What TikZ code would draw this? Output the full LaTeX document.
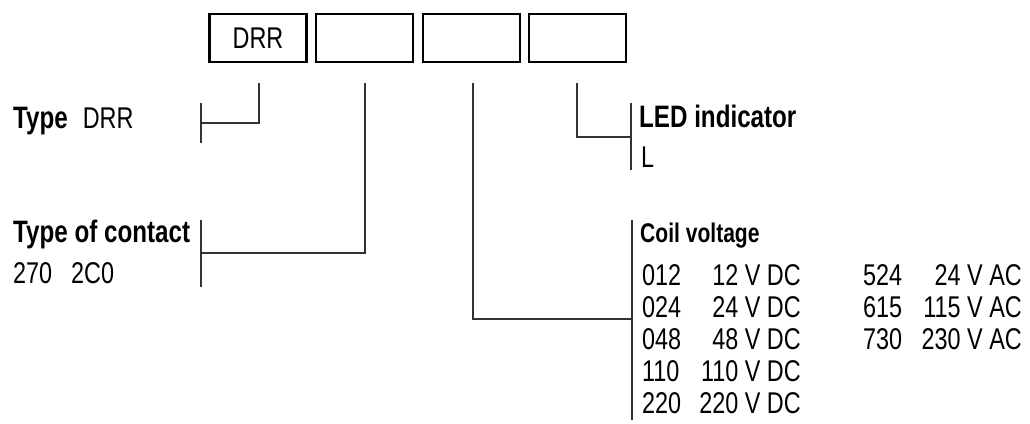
\documentclass[tikz,border=0pt]{standalone}
\usepackage{fontspec}
\setmainfont[FakeStretch=0.78]{Liberation Sans}
\definecolor{linegray}{HTML}{333333}
\tikzset{
  codebox/.style={draw=black, line width=2.6pt, minimum width=97pt, minimum height=48pt, inner sep=0pt},
  conn/.style={draw=linegray, line width=1.8pt},
  bar/.style={draw=linegray, line width=1.8pt},
  reg/.style={font=\fontsize{30pt}{32pt}\selectfont, inner sep=0pt, text=black},
  hdr/.style={font=\fontsize{31pt}{34pt}\selectfont\bfseries, inner sep=0pt, text=black},
  hdrs/.style={font=\fontsize{27pt}{30pt}\selectfont\bfseries, inner sep=0pt, text=black},
}
\begin{document}
\begin{tikzpicture}[x=1pt,y=-1pt]
\useasboundingbox (0,0) rectangle (1030,423);
% boxes
\node[codebox] (b1) at (258,38) {};
\node[codebox] (b2) at (364.5,38) {};
\node[codebox] (b3) at (471.5,38) {};
\node[codebox] (b4) at (577.5,38) {};
\node[reg] (drr) at (258,38) {DRR};
% coordinates
\coordinate (s1) at (259,83);
\coordinate (k1) at (259,123);
\coordinate (e1) at (201,123);
\coordinate (t1a) at (201,103);
\coordinate (t1b) at (201,143);
\coordinate (s2) at (365,83);
\coordinate (k2) at (365,253);
\coordinate (e2) at (201,253);
\coordinate (t2a) at (201,220);
\coordinate (t2b) at (201,287);
\coordinate (s3) at (473,83);
\coordinate (k3) at (473,319);
\coordinate (e3) at (632,319);
\coordinate (t3a) at (632,220);
\coordinate (t3b) at (632,420);
\coordinate (s4) at (577,83);
\coordinate (k4) at (577,137);
\coordinate (e4) at (631,137);
\coordinate (t4a) at (631,103);
\coordinate (t4b) at (631,170);
% connectors
\draw[conn] (s1) -- (k1) -- (e1);
\draw[bar] (t1a) -- (t1b);
\draw[conn] (s2) -- (k2) -- (e2);
\draw[bar] (t2a) -- (t2b);
\draw[conn] (s3) -- (k3) -- (e3);
\draw[bar] (t3a) -- (t3b);
\draw[conn] (s4) -- (k4) -- (e4);
\draw[bar] (t4a) -- (t4b);
% labels
\node[hdr, anchor=base west] (type) at (13,128) {Type\hspace{15pt}\mdseries\fontsize{30pt}{32pt}\selectfont DRR};
\node[hdr, anchor=base west] (contact) at (13,242) {Type of contact};
\node[reg, anchor=base west] (c270) at (13,283) {270\hspace{19pt}2C0};
\node[hdr, anchor=base west] (led) at (639,127) {LED indicator};
\node[reg, anchor=base west] (ledL) at (641,167) {L};
\node[hdrs, anchor=base west] (coil) at (640,242) {Coil voltage};
% coil rows left column
\node[reg, anchor=base west] (k012) at (642,285) {012};
\node[reg, anchor=base east] (v012) at (801,285) {12 V DC};
\node[reg, anchor=base west] (k024) at (642,317) {024};
\node[reg, anchor=base east] (v024) at (801,317) {24 V DC};
\node[reg, anchor=base west] (k048) at (642,349) {048};
\node[reg, anchor=base east] (v048) at (801,349) {48 V DC};
\node[reg, anchor=base west] (k110) at (642,381) {110};
\node[reg, anchor=base east] (v110) at (801,381) {110 V DC};
\node[reg, anchor=base west] (k220) at (642,413) {220};
\node[reg, anchor=base east] (v220) at (801,413) {220 V DC};
% right column
\node[reg, anchor=base west] (k524) at (863,285) {524};
\node[reg, anchor=base east] (v524) at (1022,285) {24 V AC};
\node[reg, anchor=base west] (k615) at (863,317) {615};
\node[reg, anchor=base east] (v615) at (1022,317) {115 V AC};
\node[reg, anchor=base west] (k730) at (863,349) {730};
\node[reg, anchor=base east] (v730) at (1022,349) {230 V AC};
\end{tikzpicture}
\end{document}
